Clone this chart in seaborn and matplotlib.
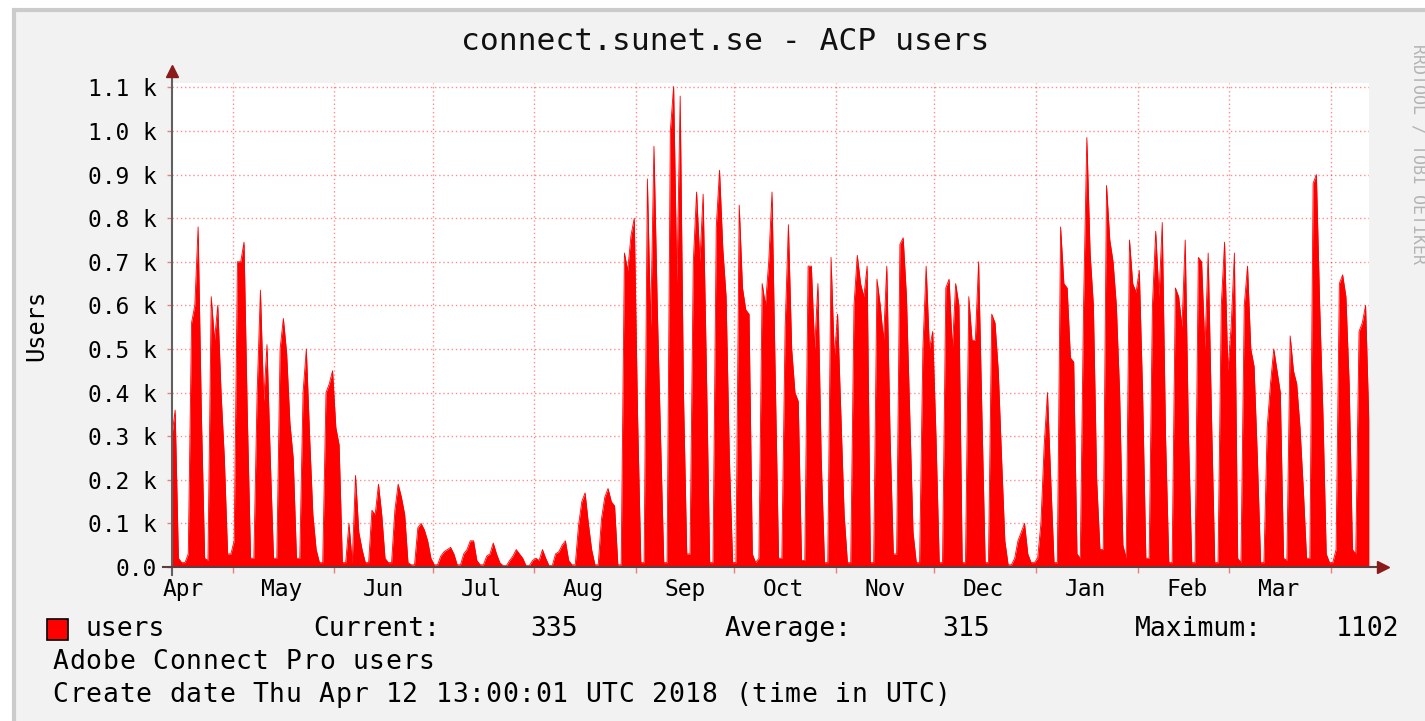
import pandas as pd
import matplotlib.pyplot as plt
from matplotlib.patches import Rectangle
import seaborn as sns

# daily values, one list per month (Apr 12 2017 .. Apr 12 2018)
apr17 = [300, 360, 20, 10, 10, 30, 560, 600, 780, 350, 20, 15, 620, 520, 600, 400, 250, 30, 30]
may17 = [60, 700, 700, 745, 350, 20, 20, 400, 635, 380, 510, 250, 20, 20, 500, 570, 490, 330, 250, 20,
         20, 400, 500, 300, 120, 40, 10, 10, 400, 420, 450]
jun17 = [320, 280, 10, 10, 100, 10, 210, 80, 40, 10, 10, 130, 120, 190, 120, 20, 10, 10, 130, 190,
         160, 120, 10, 5, 5, 90, 100, 85, 60, 20]
jul17 = [5, 5, 25, 35, 40, 45, 30, 5, 5, 30, 40, 60, 60, 15, 5, 5, 25, 30, 55, 30,
         10, 3, 3, 15, 25, 40, 30, 20, 3, 3, 15]
aug17 = [20, 15, 40, 20, 3, 3, 30, 35, 50, 60, 15, 5, 5, 95, 150, 170, 100, 40, 5, 5,
         110, 160, 180, 150, 140, 5, 5, 720, 680, 760, 800]
sep17 = [350, 10, 10, 890, 550, 965, 600, 300, 10, 10, 1000, 1102, 650, 1080, 400, 30, 30, 700, 860, 700,
         855, 450, 10, 10, 780, 910, 730, 620, 250, 10]
oct17 = [10, 830, 640, 590, 580, 30, 10, 20, 650, 600, 700, 860, 430, 20, 20, 550, 785, 500, 400, 380,
         15, 15, 690, 690, 500, 650, 250, 10, 10, 710, 480]
nov17 = [580, 350, 120, 10, 10, 600, 715, 650, 620, 690, 10, 10, 660, 600, 520, 690, 300, 30, 30, 740,
         755, 620, 350, 80, 10, 10, 500, 690, 500, 540]
dec17 = [300, 10, 10, 640, 660, 500, 650, 600, 10, 10, 620, 520, 520, 700, 350, 10, 10, 580, 560, 450,
         250, 60, 5, 5, 20, 60, 80, 100, 30, 10, 10]
jan18 = [20, 100, 280, 400, 200, 10, 10, 780, 650, 640, 480, 470, 30, 20, 600, 985, 720, 600, 200, 40,
         40, 875, 750, 700, 600, 400, 50, 20, 750, 650, 630]
feb18 = [680, 400, 20, 20, 600, 770, 620, 790, 300, 10, 10, 640, 620, 550, 750, 300, 10, 10, 710, 700,
         500, 720, 350, 10, 10, 600, 745, 450]
mar18 = [550, 720, 20, 10, 600, 690, 500, 460, 250, 10, 10, 320, 420, 500, 450, 400, 20, 15, 530, 450,
         420, 320, 180, 20, 20, 880, 900, 600, 350, 30, 10]
apr18 = [10, 40, 650, 670, 620, 420, 40, 30, 540, 560, 600, 335]

month_labels = ["Apr", "May", "Jun", "Jul", "Aug", "Sep", "Oct", "Nov", "Dec", "Jan", "Feb", "Mar"]
y_ticks = [0, 100, 200, 300, 400, 500, 600, 700, 800, 900, 1000, 1100]

current_val = "335"
average_val = "315"
maximum_val = "1102"

users = apr17 + may17 + jun17 + jul17 + aug17 + sep17 + oct17 + nov17 + dec17 + jan18 + feb18 + mar18 + apr18
df = pd.DataFrame({
    "time": pd.date_range("2017-04-12 12:00", periods=len(users), freq="D"),
    "users": users,
})

start = pd.Timestamp("2017-04-12 13:00")
end = pd.Timestamp("2018-04-12 13:00")
month_starts = pd.date_range("2017-05-01", "2018-04-01", freq="MS")
label_pos = pd.date_range("2017-04-01", "2018-03-01", freq="MS") + pd.Timedelta(days=15)

plt.rcParams["font.family"] = "DejaVu Sans Mono"

W, H = 1425, 721
fig = plt.figure(figsize=(W / 100, H / 100), dpi=100, facecolor="white")
fig.patches.append(Rectangle((14 / W, -0.05), 1.1, 1.05 - 10 / H, transform=fig.transFigure,
                             facecolor="#f2f2f2", edgecolor="#cbcbcb", linewidth=3, zorder=-10))

ax = fig.add_axes([172 / W, (H - 567) / H, 1197 / W, 484 / H])
ax.set_facecolor("white")

sns.lineplot(data=df, x="time", y="users", color="#ff0000", linewidth=0.6, ax=ax)
ax.fill_between(df["time"], df["users"], color="#ff0000", linewidth=0)

ax.set_xlim(start, end)
ax.set_ylim(0, 1110)

ax.set_yticks(y_ticks)
ax.set_yticklabels(["0.0" if v == 0 else f"{v / 1000:.1f} k" for v in y_ticks])
ax.set_xticks(month_starts)
ax.set_xticklabels([""] * len(month_starts))
ax.set_xticks(label_pos, labels=month_labels, minor=True)

ax.tick_params(axis="y", length=3.5, width=1, color="#e88080", pad=7.5, labelsize=16.5)
ax.tick_params(axis="x", which="major", length=4, width=1, color="#e88080")
ax.tick_params(axis="x", which="minor", length=0, pad=8, labelsize=16.5)

ax.set_axisbelow(True)
ax.grid(True, which="major", color="#ff0000", alpha=0.45, linestyle=(0, (1, 2)), linewidth=1)
ax.set_xlabel("")
ax.set_ylabel("")
for s in ax.spines.values():
    s.set_visible(False)

# axis lines with rrdtool-style arrows
ax.plot([0, 0], [-8 / 484, 1 + 8 / 484], transform=ax.transAxes, clip_on=False, color="#606060", lw=1.5)
ax.plot([-9 / 1197, 1 + 10 / 1197], [0, 0], transform=ax.transAxes, clip_on=False, color="#5a4040", lw=1.5)
ax.plot(0, 1 + 12 / 484, marker="^", markersize=9, color="#8b1a1a", transform=ax.transAxes, clip_on=False)
ax.plot(1 + 14 / 1197, 0, marker=">", markersize=9, color="#8b1a1a", transform=ax.transAxes, clip_on=False)


def ftext(x, y, s, **kw):
    fig.text(x / W, 1 - y / H, s, **kw)


def mono_line(x, y, s, step=16.65, size=19):
    # rrdtool spaces its glyphs a bit wider than matplotlib, so lay them on a fixed grid
    for i, ch in enumerate(s):
        if ch != " ":
            ftext(x + (i + 0.5) * step, y, ch, ha="center", va="center", fontsize=size)


ftext(725, 41, "connect.sunet.se - ACP users", ha="center", va="center", fontsize=22.5, color="#111111")
ftext(36, 325, "Users", ha="center", va="center", rotation=90, fontsize=17)
ftext(1418, 154, "RRDTOOL / TOBI OETIKER", ha="center", va="center", rotation=270, fontsize=12, color="#b4b4b4")

fig.patches.append(Rectangle((47 / W, 1 - 640 / H), 21 / W, 21 / H, transform=fig.transFigure,
                             facecolor="#ff0000", edgecolor="#000000", linewidth=1.2))
leg_y = 629
ftext(85, leg_y, "users", va="center", fontsize=19)
ftext(313, leg_y, "Current:", va="center", fontsize=19)
ftext(530, leg_y, current_val, va="center", fontsize=19)
ftext(725, leg_y, "Average:", va="center", fontsize=19)
ftext(942, leg_y, average_val, va="center", fontsize=19)
ftext(1135, leg_y, "Maximum:", va="center", fontsize=19)
ftext(1336, leg_y, maximum_val, va="center", fontsize=19)
mono_line(52, 662, "Adobe Connect Pro users")
mono_line(52, 695, "Create date Thu Apr 12 13:00:01 UTC 2018 (time in UTC)")

fig.savefig("out.png", dpi=100, facecolor=fig.get_facecolor())
